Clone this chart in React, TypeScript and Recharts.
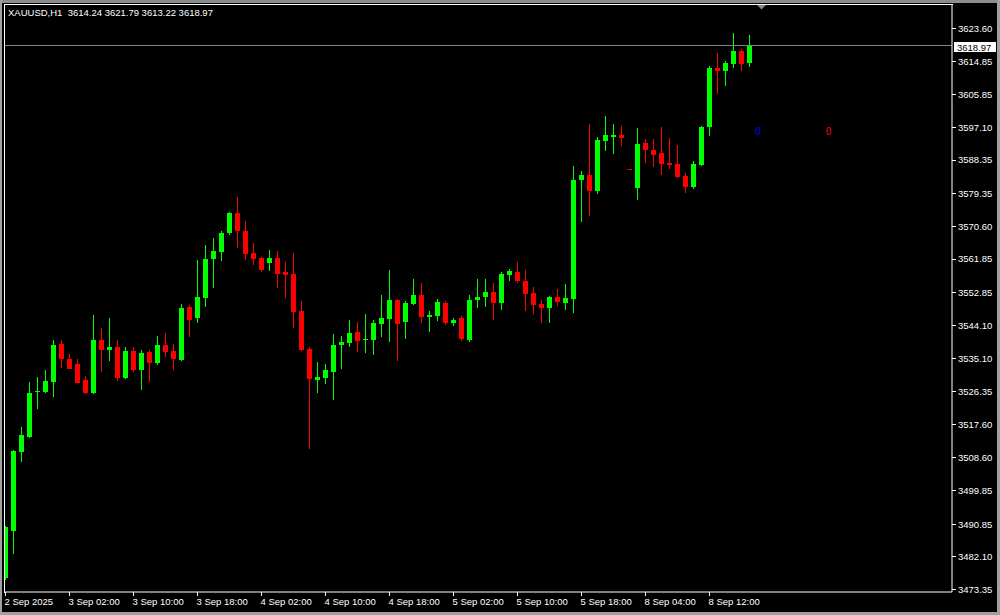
import React from 'react';
import { Bar, ComposedChart, ReferenceLine, XAxis, YAxis } from 'recharts';

// XAUUSD H1 candles, 2 Sep 18:00 .. 8 Sep 15:00
const opens: number[] = [
    3476.30, 3488.88, 3510.04, 3514.06, 3525.98, 3526.11, 3528.79, 3538.96, 3534.95, 3533.61,
    3529.32, 3525.84, 3540.03, 3537.36, 3538.16, 3529.86, 3537.09, 3532.00, 3536.82, 3533.88,
    3538.70, 3537.09, 3534.68, 3548.87, 3545.93, 3551.28, 3561.73, 3563.60, 3568.69, 3574.05,
    3569.23, 3563.33, 3562.00, 3560.66, 3562.00, 3558.25, 3557.71, 3547.80, 3537.62, 3529.32,
    3529.86, 3531.46, 3538.70, 3539.23, 3542.18, 3540.17, 3540.03, 3544.32, 3545.66, 3550.75,
    3544.86, 3549.68, 3552.09, 3546.19, 3546.46, 3549.94, 3544.59, 3545.93, 3540.03, 3550.75,
    3551.55, 3552.89, 3549.94, 3557.44, 3558.25, 3555.84, 3552.62, 3549.68, 3548.60, 3551.55,
    3549.94, 3551.01, 3582.88, 3584.22, 3579.94, 3593.33, 3594.40, 3594.94, 3585.83, 3580.74,
    3592.79, 3590.92, 3590.11, 3587.44, 3587.17, 3583.96, 3581.01, 3586.90, 3597.08, 3612.88,
    3612.08, 3613.95, 3617.43, 3614.24
];

const highs: number[] = [
    3490.22, 3510.58, 3516.74, 3528.79, 3530.13, 3532.00, 3540.03, 3540.03, 3536.29, 3534.95,
    3530.39, 3546.73, 3543.25, 3545.93, 3540.03, 3538.16, 3538.16, 3537.36, 3537.36, 3541.11,
    3541.91, 3538.96, 3549.68, 3549.41, 3561.46, 3565.48, 3567.35, 3569.23, 3574.31, 3578.33,
    3571.90, 3566.01, 3562.26, 3564.14, 3563.87, 3560.92, 3563.33, 3550.48, 3538.16, 3534.14,
    3533.61, 3541.64, 3541.11, 3545.39, 3544.86, 3547.00, 3545.39, 3552.09, 3558.78, 3551.01,
    3550.48, 3556.37, 3555.30, 3547.80, 3551.01, 3550.48, 3545.93, 3546.46, 3552.09, 3556.37,
    3556.37, 3555.30, 3558.25, 3559.05, 3560.92, 3558.78, 3554.23, 3550.75, 3551.82, 3553.69,
    3555.03, 3586.63, 3585.29, 3597.88, 3594.40, 3600.02, 3597.88, 3597.35, 3585.83, 3596.81,
    3593.86, 3593.86, 3597.08, 3594.13, 3592.26, 3584.76, 3587.97, 3597.35, 3613.41, 3616.90,
    3614.75, 3622.25, 3617.97, 3621.79
];

const lows: number[] = [
    3475.76, 3482.72, 3507.36, 3513.90, 3521.56, 3525.84, 3524.77, 3532.54, 3532.20, 3528.45,
    3525.57, 3525.70, 3531.46, 3534.41, 3529.05, 3529.59, 3531.46, 3526.64, 3528.79, 3533.34,
    3535.48, 3532.00, 3534.50, 3540.84, 3544.59, 3548.87, 3553.96, 3561.19, 3568.15, 3564.67,
    3561.46, 3560.12, 3558.25, 3558.51, 3553.96, 3551.28, 3543.25, 3537.09, 3510.84, 3525.84,
    3528.25, 3523.97, 3532.27, 3538.16, 3536.82, 3536.55, 3536.02, 3540.84, 3539.50, 3534.41,
    3540.30, 3549.41, 3544.59, 3542.18, 3545.12, 3544.05, 3543.78, 3539.77, 3539.50, 3548.60,
    3548.87, 3545.39, 3548.07, 3555.84, 3555.30, 3547.80, 3547.00, 3544.59, 3544.59, 3549.14,
    3548.07, 3547.27, 3571.64, 3573.24, 3579.13, 3590.65, 3589.85, 3591.99, 3585.56, 3577.53,
    3587.44, 3586.37, 3584.22, 3585.83, 3583.42, 3579.40, 3580.47, 3586.63, 3594.67, 3605.92,
    3608.06, 3612.88, 3612.08, 3613.22
];

const closes: number[] = [
    3489.95, 3510.31, 3514.59, 3525.84, 3526.38, 3529.05, 3538.70, 3534.95, 3532.27, 3528.52,
    3525.84, 3540.03, 3537.36, 3538.16, 3529.86, 3537.09, 3532.00, 3536.55, 3533.88, 3538.70,
    3536.82, 3534.95, 3548.60, 3545.39, 3551.55, 3561.73, 3563.87, 3568.69, 3574.05, 3569.23,
    3563.07, 3561.73, 3558.78, 3562.00, 3557.71, 3557.44, 3547.53, 3537.36, 3529.59, 3530.13,
    3532.00, 3538.70, 3539.50, 3541.91, 3539.77, 3540.30, 3544.59, 3545.93, 3550.75, 3544.32,
    3549.94, 3552.09, 3546.19, 3546.73, 3550.21, 3544.59, 3545.39, 3540.30, 3550.75, 3551.55,
    3552.89, 3549.94, 3557.71, 3558.51, 3555.84, 3552.35, 3549.41, 3548.60, 3551.55, 3550.21,
    3551.28, 3582.88, 3584.22, 3579.94, 3593.60, 3594.94, 3594.94, 3594.13, 3585.56, 3592.53,
    3590.92, 3589.58, 3587.17, 3586.90, 3583.69, 3581.01, 3587.17, 3597.08, 3612.88, 3612.08,
    3614.22, 3617.43, 3613.95, 3618.97
];

const priceTicks: number[] = [
    3473.35, 3482.10, 3490.85, 3499.85, 3508.60, 3517.60, 3526.35, 3535.10, 3544.10,
    3552.85, 3561.85, 3570.60, 3579.35, 3588.35, 3597.10, 3605.85, 3614.85, 3623.60
];

const timeTickIndex: number[] = [0, 8, 16, 24, 32, 40, 48, 56, 64, 72, 80, 88];
const timeTickLabels: string[] = [
    '2 Sep 2025', '3 Sep 02:00', '3 Sep 10:00', '3 Sep 18:00', '4 Sep 02:00', '4 Sep 10:00',
    '4 Sep 18:00', '5 Sep 02:00', '5 Sep 10:00', '5 Sep 18:00', '8 Sep 04:00', '8 Sep 12:00'
];

const symbolTitle = 'XAUUSD,H1';
const lastBar = { open: 3614.24, high: 3621.79, low: 3613.22, close: 3618.97 };

const FONT = "'Liberation Sans', Arial, sans-serif";
const UP = '#00ff00';
const DOWN = '#ff0000';

const candles = opens.map((o, i) => ({
    i,
    open: o,
    high: highs[i],
    low: lows[i],
    close: closes[i],
    range: [lows[i], highs[i]]
}));

function Candle(props: any) {
    const { x, y, width, height, payload } = props;
    if (!payload) return null;
    const { open, high, low, close } = payload;
    const cx = x + width / 2;
    const top = Math.min(y, y + height);
    const k = high > low ? Math.abs(height) / (high - low) : 0;
    const py = (p: number) => Math.floor(top + (high - p) * k);
    const color = close >= open ? UP : DOWN;
    const wTop = py(high);
    const wBot = py(low);
    const bTop = py(Math.max(open, close));
    const bBot = py(Math.min(open, close));
    return (
        <g>
            <rect x={Math.round(cx - 0.5)} y={wTop} width={1} height={Math.max(1, wBot - wTop)} fill={color}/>
            <rect x={Math.round(cx - 2.5)} y={bTop} width={5} height={Math.max(1, bBot - bTop)} fill={color}/>
        </g>
    );
}

function TimeTick(props: any) {
    const { x, y, payload } = props;
    const idx = timeTickIndex.indexOf(payload.value);
    return (
        <text x={x - 1} y={y + 7} fill="#ffffff" fontSize={9.5} fontFamily={FONT} textAnchor="start">
            {timeTickLabels[idx]}
        </text>
    );
}

function PriceTick(props: any) {
    const { x, y, payload } = props;
    return (
        <text x={x} y={y} dy="0.36em" fill="#ffffff" fontSize={9.5} fontFamily={FONT} textAnchor="start">
            {payload.value.toFixed(2)}
        </text>
    );
}

function PriceTag(props: any) {
    const vb = props.viewBox || {};
    const right = (vb.x || 0) + (vb.width || 0);
    const yy = Math.round(vb.y || 0);
    return (
        <g>
            <rect x={right + 2} y={yy - 4} width={42} height={10} fill="#ffffff"/>
            <text x={right + 5} y={yy + 4.5} fill="#000000" fontSize={9.5} fontFamily={FONT}>
                {lastBar.close.toFixed(2)}
            </text>
        </g>
    );
}

export default function App(): JSX.Element {
    const title = `${symbolTitle}  ${lastBar.open.toFixed(2)} ${lastBar.high.toFixed(2)} ${lastBar.low.toFixed(2)} ${lastBar.close.toFixed(2)}`;
    return (
        <div style={{ position: 'absolute', left: 0, top: 0, width: 1000, height: 615, background: '#000000' }}>
            <ComposedChart width={1000} height={615} data={candles}
                           margin={{ top: 5, right: 0, bottom: 0, left: 5 }}>
                <XAxis type="number" dataKey="i" domain={[-0.0625, 118.3125]} allowDataOverflow
                       ticks={timeTickIndex} interval={0} height={23} tickSize={4}
                       axisLine={{ stroke: '#ffffff' }} tickLine={{ stroke: '#ffffff' }}
                       tick={<TimeTick/>}/>
                <YAxis orientation="right" domain={[3472.68, 3629.88]} allowDataOverflow
                       ticks={priceTicks} interval={0} width={48} tickSize={4}
                       axisLine={{ stroke: '#ffffff' }}
                       tickLine={{ stroke: '#ffffff', shapeRendering: 'crispEdges' }}
                       tick={<PriceTick/>}/>
                <ReferenceLine y={lastBar.close} stroke="#778899" shapeRendering="crispEdges"
                               label={<PriceTag/>}/>
                <Bar dataKey="range" barSize={5} shape={<Candle/>} isAnimationActive={false}/>
            </ComposedChart>
            <svg width={1000} height={615} style={{ position: 'absolute', left: 0, top: 0, pointerEvents: 'none' }}>
                <rect x={0} y={0} width={1000} height={3} fill="#8c8c8c"/>
                <rect x={0} y={0} width={2} height={615} fill="#a0a0a0"/>
                <rect x={997} y={0} width={3} height={615} fill="#a0a0a0"/>
                <rect x={0} y={612} width={1000} height={3} fill="#a0a0a0"/>
                <rect x={4} y={4} width={949} height={1} fill="#ffffff"/>
                <rect x={4} y={4} width={1} height={589} fill="#ffffff"/>
                <polygon points="757,5 766,5 761.5,9.5" fill="#778899"/>
                <text x={8} y={16} fill="#ffffff" fontSize={9.5} fontFamily={FONT} style={{ whiteSpace: 'pre' }}>
                    {title}
                </text>
                <text x={758} y={135} fill="#0000ff" fontSize={10} fontFamily={FONT} textAnchor="middle">0</text>
                <text x={828.5} y={135} fill="#ff0000" fontSize={10} fontFamily={FONT} textAnchor="middle">0</text>
            </svg>
        </div>
    );
}
